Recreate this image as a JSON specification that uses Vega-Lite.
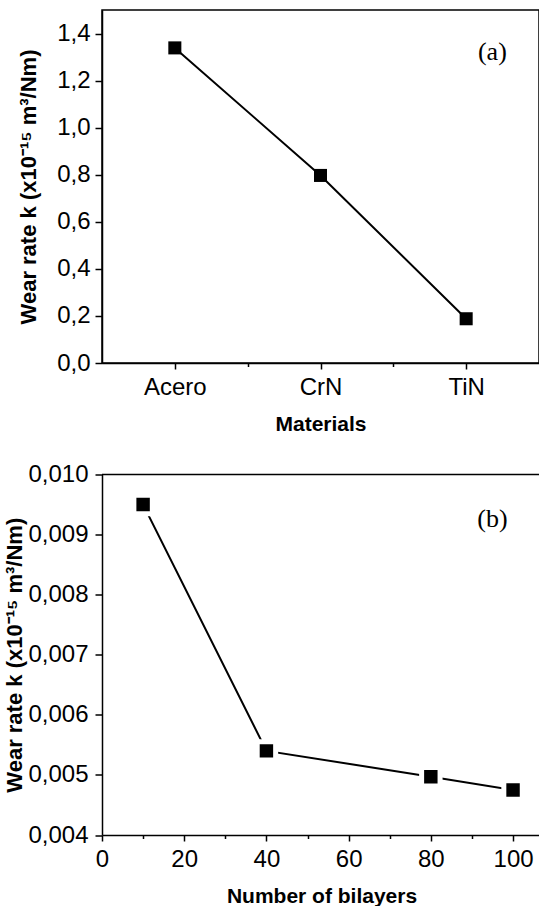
{
  "$schema": "https://vega.github.io/schema/vega-lite/v6.json",
  "background": "white",
  "padding": {"left": 3, "top": 9, "right": 0, "bottom": 0},
  "bounds": "flush",
  "spacing": 111.5,
  "config": {
    "font": "Liberation Sans",
    "view": {"stroke": "black", "strokeWidth": 1.5},
    "axis": {
      "domainColor": "black", "domainWidth": 1.5,
      "tickColor": "black", "tickWidth": 1.5,
      "labelColor": "black", "labelFont": "Liberation Sans", "labelFontSize": 24,
      "titleColor": "black", "titleFont": "Liberation Sans", "titleFontSize": 21, "titleFontWeight": "bold",
      "grid": false, "labelOverlap": false, "labelFlush": false
    }
  },
  "vconcat": [
    {
      "width": 437,
      "height": 353,
      "data": {"values": [
        {"material": "Acero", "pos": 1, "k": 1.339},
        {"material": "CrN", "pos": 2, "k": 0.797},
        {"material": "TiN", "pos": 3, "k": 0.188}
      ]},
      "layer": [
        {
          "mark": {"type": "line", "color": "black", "strokeWidth": 2},
          "encoding": {
            "x": {"field": "pos", "type": "quantitative",
              "scale": {"domain": [0.5, 3.5], "nice": false, "zero": false},
              "axis": {
                "title": "Materials",
                "values": [1, 1.5, 2, 2.5, 3],
                "labelExpr": "datum.value == 1 ? 'Acero' : datum.value == 2 ? 'CrN' : datum.value == 3 ? 'TiN' : ''",
                "tickSize": {"condition": {"test": "datum.value % 1 == 0", "value": 6}, "value": 3.5},
                "labelPadding": 6, "titlePadding": 14
              }},
            "y": {"field": "k", "type": "quantitative",
              "scale": {"domain": [0, 1.5], "nice": false},
              "axis": {
                "title": "Wear rate k (x10⁻¹⁵ m³/Nm)",
                "titleFontSize": 22,
                "values": [0, 0.1, 0.2, 0.3, 0.4, 0.5, 0.6, 0.7, 0.8, 0.9, 1.0, 1.1, 1.2, 1.3, 1.4],
                "labelExpr": "round(datum.value*10) % 2 == 0 ? replace(format(datum.value, '.1f'), '.', ',') : ''",
                "tickSize": {"condition": {"test": "round(datum.value*10) % 2 == 0", "value": 7}, "value": 3.5},
                "labelPadding": 5, "titlePadding": 16
              }}
          }
        },
        {
          "mark": {"type": "point", "shape": "square", "filled": true, "color": "black", "opacity": 1, "size": 170},
          "encoding": {
            "x": {"field": "pos", "type": "quantitative"},
            "y": {"field": "k", "type": "quantitative"}
          }
        },
        {
          "data": {"values": [{"label": "(a)"}]},
          "mark": {"type": "text", "font": "Liberation Serif", "fontSize": 26, "color": "black"},
          "encoding": {
            "x": {"datum": 3.18},
            "y": {"datum": 1.32},
            "text": {"field": "label"}
          }
        }
      ]
    },
    {
      "width": 439,
      "height": 360.5,
      "view": {"stroke": null},
      "data": {"values": [
        {"bilayers": 10, "k": 0.0095},
        {"bilayers": 40, "k": 0.0054},
        {"bilayers": 80, "k": 0.00497},
        {"bilayers": 100, "k": 0.00475}
      ]},
      "layer": [
        {
          "data": {"values": [{}]},
          "mark": {"type": "rule", "color": "black", "strokeWidth": 1.5},
          "encoding": {"y": {"datum": 0.01}}
        },
        {
          "mark": {"type": "line", "color": "black", "strokeWidth": 2},
          "encoding": {
            "x": {"field": "bilayers", "type": "quantitative",
              "scale": {"domain": [0, 106.8], "nice": false},
              "axis": {
                "title": "Number of bilayers",
                "values": [0, 10, 20, 30, 40, 50, 60, 70, 80, 90, 100],
                "labelExpr": "datum.value % 20 == 0 ? datum.label : ''",
                "tickSize": {"condition": {"test": "datum.value % 20 == 0", "value": 6}, "value": 3.5},
                "labelPadding": 6, "titlePadding": 14
              }},
            "y": {"field": "k", "type": "quantitative",
              "scale": {"domain": [0.004, 0.01], "nice": false, "zero": false},
              "axis": {
                "title": "Wear rate k (x10⁻¹⁵ m³/Nm)",
                "titleFontSize": 22,
                "values": [0.004, 0.0045, 0.005, 0.0055, 0.006, 0.0065, 0.007, 0.0075, 0.008, 0.0085, 0.009, 0.0095, 0.01],
                "labelExpr": "round(datum.value*2000) % 2 == 0 ? replace(format(datum.value, '.3f'), '.', ',') : ''",
                "tickSize": {"condition": {"test": "round(datum.value*2000) % 2 == 0", "value": 7}, "value": 3.5},
                "labelPadding": 7, "titlePadding": 1
              }}
          }
        },
        {
          "mark": {"type": "point", "shape": "square", "filled": true, "color": "black", "opacity": 1, "size": 340, "stroke": "white", "strokeWidth": 5, "strokeOpacity": 1},
          "encoding": {
            "x": {"field": "bilayers", "type": "quantitative"},
            "y": {"field": "k", "type": "quantitative"}
          }
        },
        {
          "data": {"values": [{"label": "(b)"}]},
          "mark": {"type": "text", "font": "Liberation Serif", "fontSize": 26, "color": "black"},
          "encoding": {
            "x": {"datum": 95},
            "y": {"datum": 0.00926},
            "text": {"field": "label"}
          }
        }
      ]
    }
  ]
}
